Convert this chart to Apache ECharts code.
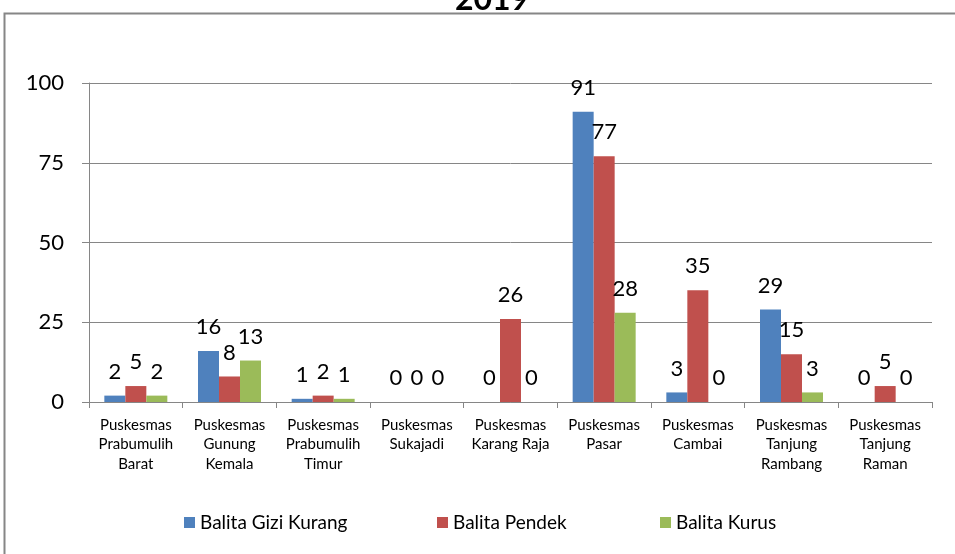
<!DOCTYPE html>
<html>
<head>
<meta charset="utf-8">
<script src="https://cdn.jsdelivr.net/npm/echarts@6/dist/echarts.min.js"></script>
<style>
  html, body { margin: 0; padding: 0; background: #fff; }
  #chart { width: 955px; height: 554px; }
</style>
</head>
<body>
<div id="chart"></div>
<script>
const categories = [
  'Puskesmas\nPrabumulih\nBarat',
  'Puskesmas\nGunung\nKemala',
  'Puskesmas\nPrabumulih\nTimur',
  'Puskesmas\nSukajadi',
  'Puskesmas\nKarang Raja',
  'Puskesmas\nPasar',
  'Puskesmas\nCambai',
  'Puskesmas\nTanjung\nRambang',
  'Puskesmas\nTanjung\nRaman'
]
const giziKurang = [2, 16, 1, 0, 0, 91, 3, 29, 0]
const pendek = [5, 8, 2, 0, 26, 77, 35, 15, 5]
const kurus = [2, 13, 1, 0, 0, 28, 0, 3, 0]
const seriesNames = ['Balita Gizi Kurang', 'Balita Pendek', 'Balita Kurus']
const colors = ['#4F81BD', '#C0504D', '#9BBB59']

const font = 'Lato, "Open Sans", sans-serif'
const gray = '#868686'

const chart = echarts.init(document.getElementById('chart'))

function barSeries(name, data, color) {
  return {
    name,
    type: 'bar',
    data,
    barWidth: 21,
    barGap: '0%',
    itemStyle: { color },
    label: {
      show: true,
      position: 'top',
      distance: 13,
      color: '#000',
      fontFamily: font,
      fontSize: 22,
    },
  }
}

function legendAt(name, left) {
  return {
    data: [name],
    left,
    top: 508,
    itemWidth: 11,
    itemHeight: 11,
    itemGap: 0,
    icon: 'rect',
    textStyle: { fontFamily: font, fontSize: 19, color: '#000' },
  }
}

const option = {
  animation: false,
  title: {
    text: '2019',
    left: 487,
    textAlign: 'center',
    top: -21,
    textStyle: { fontFamily: font, fontSize: 32, fontWeight: 'bold', color: '#000' },
  },
  graphic: [
    {
      type: 'rect',
      shape: { x: 4.5, y: 13.5, width: 1000, height: 600 },
      style: { fill: 'none', stroke: gray, lineWidth: 2 },
    },
  ],
  legend: [
    legendAt(seriesNames[0], 179),
    legendAt(seriesNames[1], 432),
    legendAt(seriesNames[2], 655),
  ],
  grid: { left: 89, right: 23, top: 83, bottom: 152 },
  xAxis: {
    type: 'category',
    data: categories,
    axisLine: { lineStyle: { color: gray } },
    axisTick: { show: true, length: 6, lineStyle: { color: gray } },
    axisLabel: {
      interval: 0,
      margin: 13,
      color: '#000',
      fontFamily: font,
      fontSize: 15,
      lineHeight: 19.5,
    },
  },
  yAxis: {
    type: 'value',
    min: 0,
    max: 100,
    interval: 25,
    axisLine: { show: true, lineStyle: { color: gray } },
    axisTick: { show: true, length: 7, lineStyle: { color: gray } },
    splitLine: { lineStyle: { color: gray } },
    axisLabel: { margin: 25, color: '#000', fontFamily: font, fontSize: 22 },
  },
  series: [
    barSeries(seriesNames[0], giziKurang, colors[0]),
    barSeries(seriesNames[1], pendek, colors[1]),
    barSeries(seriesNames[2], kurus, colors[2]),
  ],
}

chart.setOption(option)
</script>
</body>
</html>
